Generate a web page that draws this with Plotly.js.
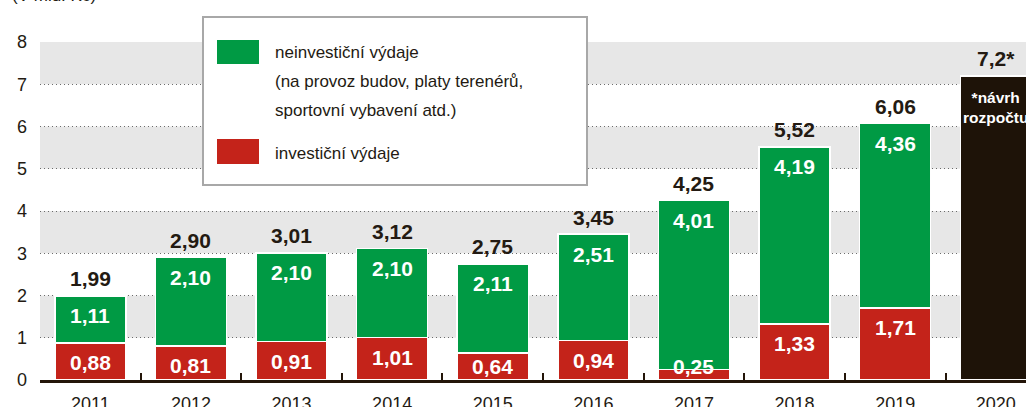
<!DOCTYPE html>
<html>
<head>
<meta charset="utf-8">
<script src="https://cdn.plot.ly/plotly-3.0.1.min.js"></script>
<style>html,body{margin:0;padding:0;background:#fff;}#chart{width:1026px;height:407px;}</style>
</head>
<body>
<div id="chart"></div>
<script>
const years = ["2011","2012","2013","2014","2015","2016","2017","2018","2019","2020"];
const investicni = [0.88,0.81,0.91,1.01,0.64,0.94,0.25,1.33,1.71,null];
const neinvesticni = [1.11,2.10,2.10,2.10,2.11,2.51,4.01,4.19,4.36,null];
const navrh = [null,null,null,null,null,null,null,null,null,7.2];
const totals = [1.99,2.90,3.01,3.12,2.75,3.45,4.25,5.52,6.06,7.2];
const totalLabels = ["1,99","2,90","3,01","3,12","2,75","3,45","4,25","5,52","6,06","7,2*"];
const invLabels = ["0,88","0,81","0,91","1,01","0,64","0,94","0,25","1,33","1,71",null];
const neinvLabels = ["1,11","2,10","2,10","2,10","2,11","2,51","4,01","4,19","4,36",null];
const yTicks = [0,1,2,3,4,5,6,7,8];
const legendTexts = ["neinvestiční výdaje","(na provoz budov, platy terenérů,","sportovní vybavení atd.)","investiční výdaje"];
const navrhText = "*návrh<br>rozpočtu";
const yTitle = "(V mld. Kč)";

const GREEN = "#009a44", RED = "#c4231a", BLACK = "#1e1308", TXT = "#231a12";
const FONT = "Liberation Sans, Arial, sans-serif";

const W = 1026, H = 407, ML = 40, MR = 0, MT = 42, MB = 27;
const PW = W - ML - MR, PH = H - MT - MB;
const px = x => (x - ML) / PW;
const py = y => (H - MB - y) / PH;
const unitPx = PH / 8;
// inside label sits ~20px under the segment top, less for short segments
const insideShift = v => -Math.min(20, v * unitPx - 14);

const barLine = {color: "#ffffff", width: 1.5};
const traces = [
  {type: "bar", x: years, y: investicni, marker: {color: RED, line: barLine}, width: 0.706, hoverinfo: "skip", showlegend: false},
  {type: "bar", x: years, y: neinvesticni, marker: {color: GREEN, line: barLine}, width: 0.706, hoverinfo: "skip", showlegend: false},
  {type: "bar", x: years, y: navrh, marker: {color: BLACK, line: barLine}, width: 0.706, hoverinfo: "skip", showlegend: false}
];

const shapes = [];
[[1,2],[3,4],[5,6],[7,8]].forEach(b => shapes.push({type: "rect", xref: "paper", yref: "y", x0: 0, x1: 1, y0: b[0], y1: b[1], fillcolor: "#e7e7e7", line: {width: 0}, layer: "below"}));
// legend box
shapes.push({type: "rect", xref: "paper", yref: "paper", x0: px(203), x1: px(587), y0: py(185), y1: py(17), fillcolor: "#ffffff", line: {color: "#a8a8a8", width: 2}, layer: "above"});
shapes.push({type: "rect", xref: "paper", yref: "paper", x0: px(217), x1: px(259), y0: py(64), y1: py(40), fillcolor: GREEN, line: {width: 0}, layer: "above"});
shapes.push({type: "rect", xref: "paper", yref: "paper", x0: px(217), x1: px(259), y0: py(164), y1: py(139), fillcolor: RED, line: {width: 0}, layer: "above"});

const annotations = [];
const valFont = {family: FONT, size: 21, color: "#ffffff"};
years.forEach((yr, i) => {
  if (invLabels[i] !== null) {
    annotations.push({x: i, y: investicni[i], xref: "x", yref: "y", text: "<b>" + invLabels[i] + "</b>", showarrow: false, yanchor: "middle", yshift: insideShift(investicni[i]), font: valFont});
    annotations.push({x: i, y: investicni[i] + neinvesticni[i], xref: "x", yref: "y", text: "<b>" + neinvLabels[i] + "</b>", showarrow: false, yanchor: "middle", yshift: insideShift(neinvesticni[i]), font: valFont});
  }
  annotations.push({x: i, y: totals[i], xref: "x", yref: "y", text: "<b>" + totalLabels[i] + "</b>", showarrow: false, yanchor: "middle", yshift: 17, font: {family: FONT, size: 21, color: TXT}});
});
annotations.push({x: 9, y: navrh[9], xref: "x", yref: "y", text: "<b>" + navrhText + "</b>", showarrow: false, yanchor: "middle", yshift: -32, font: {family: FONT, size: 15.5, color: "#ffffff"}});

const legY = [52, 81, 110, 153];
legendTexts.forEach((t, i) => annotations.push({x: px(273), y: py(legY[i]), xref: "paper", yref: "paper", text: t, showarrow: false, xanchor: "left", yanchor: "middle", font: {family: FONT, size: 17, color: TXT}}));
annotations.push({x: px(10), y: py(-4), xref: "paper", yref: "paper", text: yTitle, showarrow: false, xanchor: "left", yanchor: "middle", font: {family: FONT, size: 17, color: TXT}});

const layout = {
  width: W, height: H,
  margin: {l: ML, r: MR, t: MT, b: MB, pad: 0},
  paper_bgcolor: "#ffffff", plot_bgcolor: "rgba(0,0,0,0)",
  barmode: "stack", showlegend: false,
  xaxis: {type: "category", range: [-0.5, 9.3], showgrid: false, zeroline: false,
    showline: true, linecolor: "#231509", linewidth: 2.5,
    ticks: "inside", tickson: "boundaries", ticklen: 7, tickwidth: 2, tickcolor: "#231509",
    tickfont: {family: FONT, size: 18, color: TXT}, ticklabelstandoff: 6, fixedrange: true},
  yaxis: {range: [0, 8], tickvals: yTicks, ticktext: yTicks.map(String), showgrid: true, gridcolor: "#6b6b6b", gridwidth: 1, griddash: "1px,3px",
    zeroline: false, showline: false, ticks: "", tickfont: {family: FONT, size: 18, color: TXT}, ticklabelstandoff: 12, fixedrange: true},
  shapes: shapes,
  annotations: annotations
};

Plotly.newPlot("chart", traces, layout, {displayModeBar: false, staticPlot: true});
</script>
</body>
</html>
